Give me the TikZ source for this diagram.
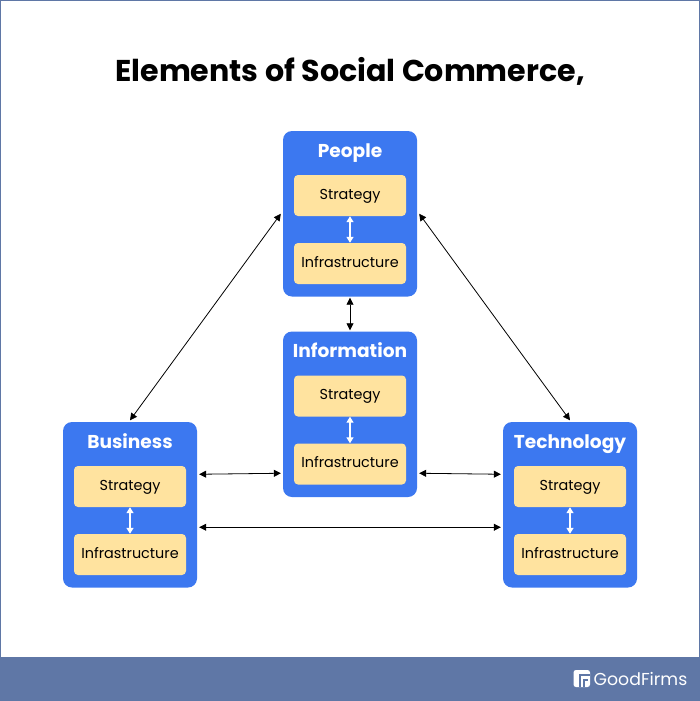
\documentclass[tikz,border=0pt]{standalone}
\usepackage{fontspec}
\setmainfont{Poppins}
\usetikzlibrary{arrows.meta,calc}
\definecolor{boxblue}{HTML}{3C78F0}
\definecolor{boxyellow}{HTML}{FFE39F}
\definecolor{band}{HTML}{5F77A6}
\tikzset{
  x=1pt,y=-1pt,
  panel/.style={fill=boxblue,draw=none,rounded corners=9pt,minimum width=134pt,minimum height=165.5pt,inner sep=0pt},
  inner box/.style={fill=boxyellow,draw=none,rounded corners=4pt,minimum width=112pt,minimum height=41pt,inner sep=0pt,text height=10pt,text depth=3pt,font=\fontsize{14.4}{16}\selectfont,text=black},
  heading/.style={text=white,font=\fontsize{18.6}{20}\selectfont\bfseries,inner sep=0pt,text height=14pt,text depth=4pt},
  link/.style={draw=black,line width=0.8pt,{Triangle[length=7pt,width=7pt]}-{Triangle[length=7pt,width=7pt]}},
  inlink/.style={draw=white,line width=1.3pt,{Triangle[length=6pt,width=7pt]}-{Triangle[length=6pt,width=7pt]}},
}
\newcommand{\element}[4]{% name, cx, top, title
  \node[panel] (#1) at (#2,#3+82.75) {};
  \node[heading] (#1h) at (#2,#3+21) {#4};
  \node[inner box] (#1s) at (#2,#3+64.5) {Strategy};
  \node[inner box] (#1i) at (#2,#3+132.5) {Infrastructure};
  \draw[inlink] (#1s.south) -- (#1i.north);
}
\begin{document}
\begin{tikzpicture}
\useasboundingbox (0,0) rectangle (700,701);
\fill[white] (0,0) rectangle (700,701);
\draw[band,line width=1.5pt] (0.5,657) -- (0.5,0.7) -- (699.5,0.7) -- (699.5,657);
\fill[band] (0,657) rectangle (700,701);
\node[font=\fontsize{30.1}{32}\selectfont\bfseries,text=black,inner sep=0pt] (title) at (350,71) {Elements of Social Commerce,};
\element{people}{350}{131}{People}
\element{info}{350}{331.5}{Information}
\element{business}{130}{422}{Business}
\element{tech}{570}{422}{Technology}
\draw[link] ([xshift=-2pt]people.west) -- ([yshift=1.5pt]business.north);
\draw[link] ([xshift=2pt]people.east) -- ([yshift=1.5pt]tech.north);
\draw[link] ([yshift=-1pt]people.south) -- ([yshift=1pt]info.north);
\draw[link] ($(business.east)+(2pt,30.5pt)$) -- ($(info.west)+(-2pt,-59pt)$);
\draw[link] ($(info.east)+(2pt,-59pt)$) -- ($(tech.west)+(-2pt,30.5pt)$);
\draw[link] ($(business.east)+(2pt,-22.5pt)$) -- ($(tech.west)+(-2pt,-22.5pt)$);
% logo
\fill[white,rounded corners=2.5pt] (573.5,670) -- (590,670) -- (590,687) -- (573.5,687) -- cycle;
\fill[band] (579,673.5) rectangle (590,675.5);
\fill[band] (579,675.5) rectangle (581,687);
\fill[band] (583,679) rectangle (588,681);
\fill[band] (583,681) rectangle (585,687);
\node[anchor=west,inner sep=0pt,text=white,font=\fontsize{17.3}{19}\selectfont] (brand) at (593.5,678.5) {GoodFirms};
\end{tikzpicture}
\end{document}
